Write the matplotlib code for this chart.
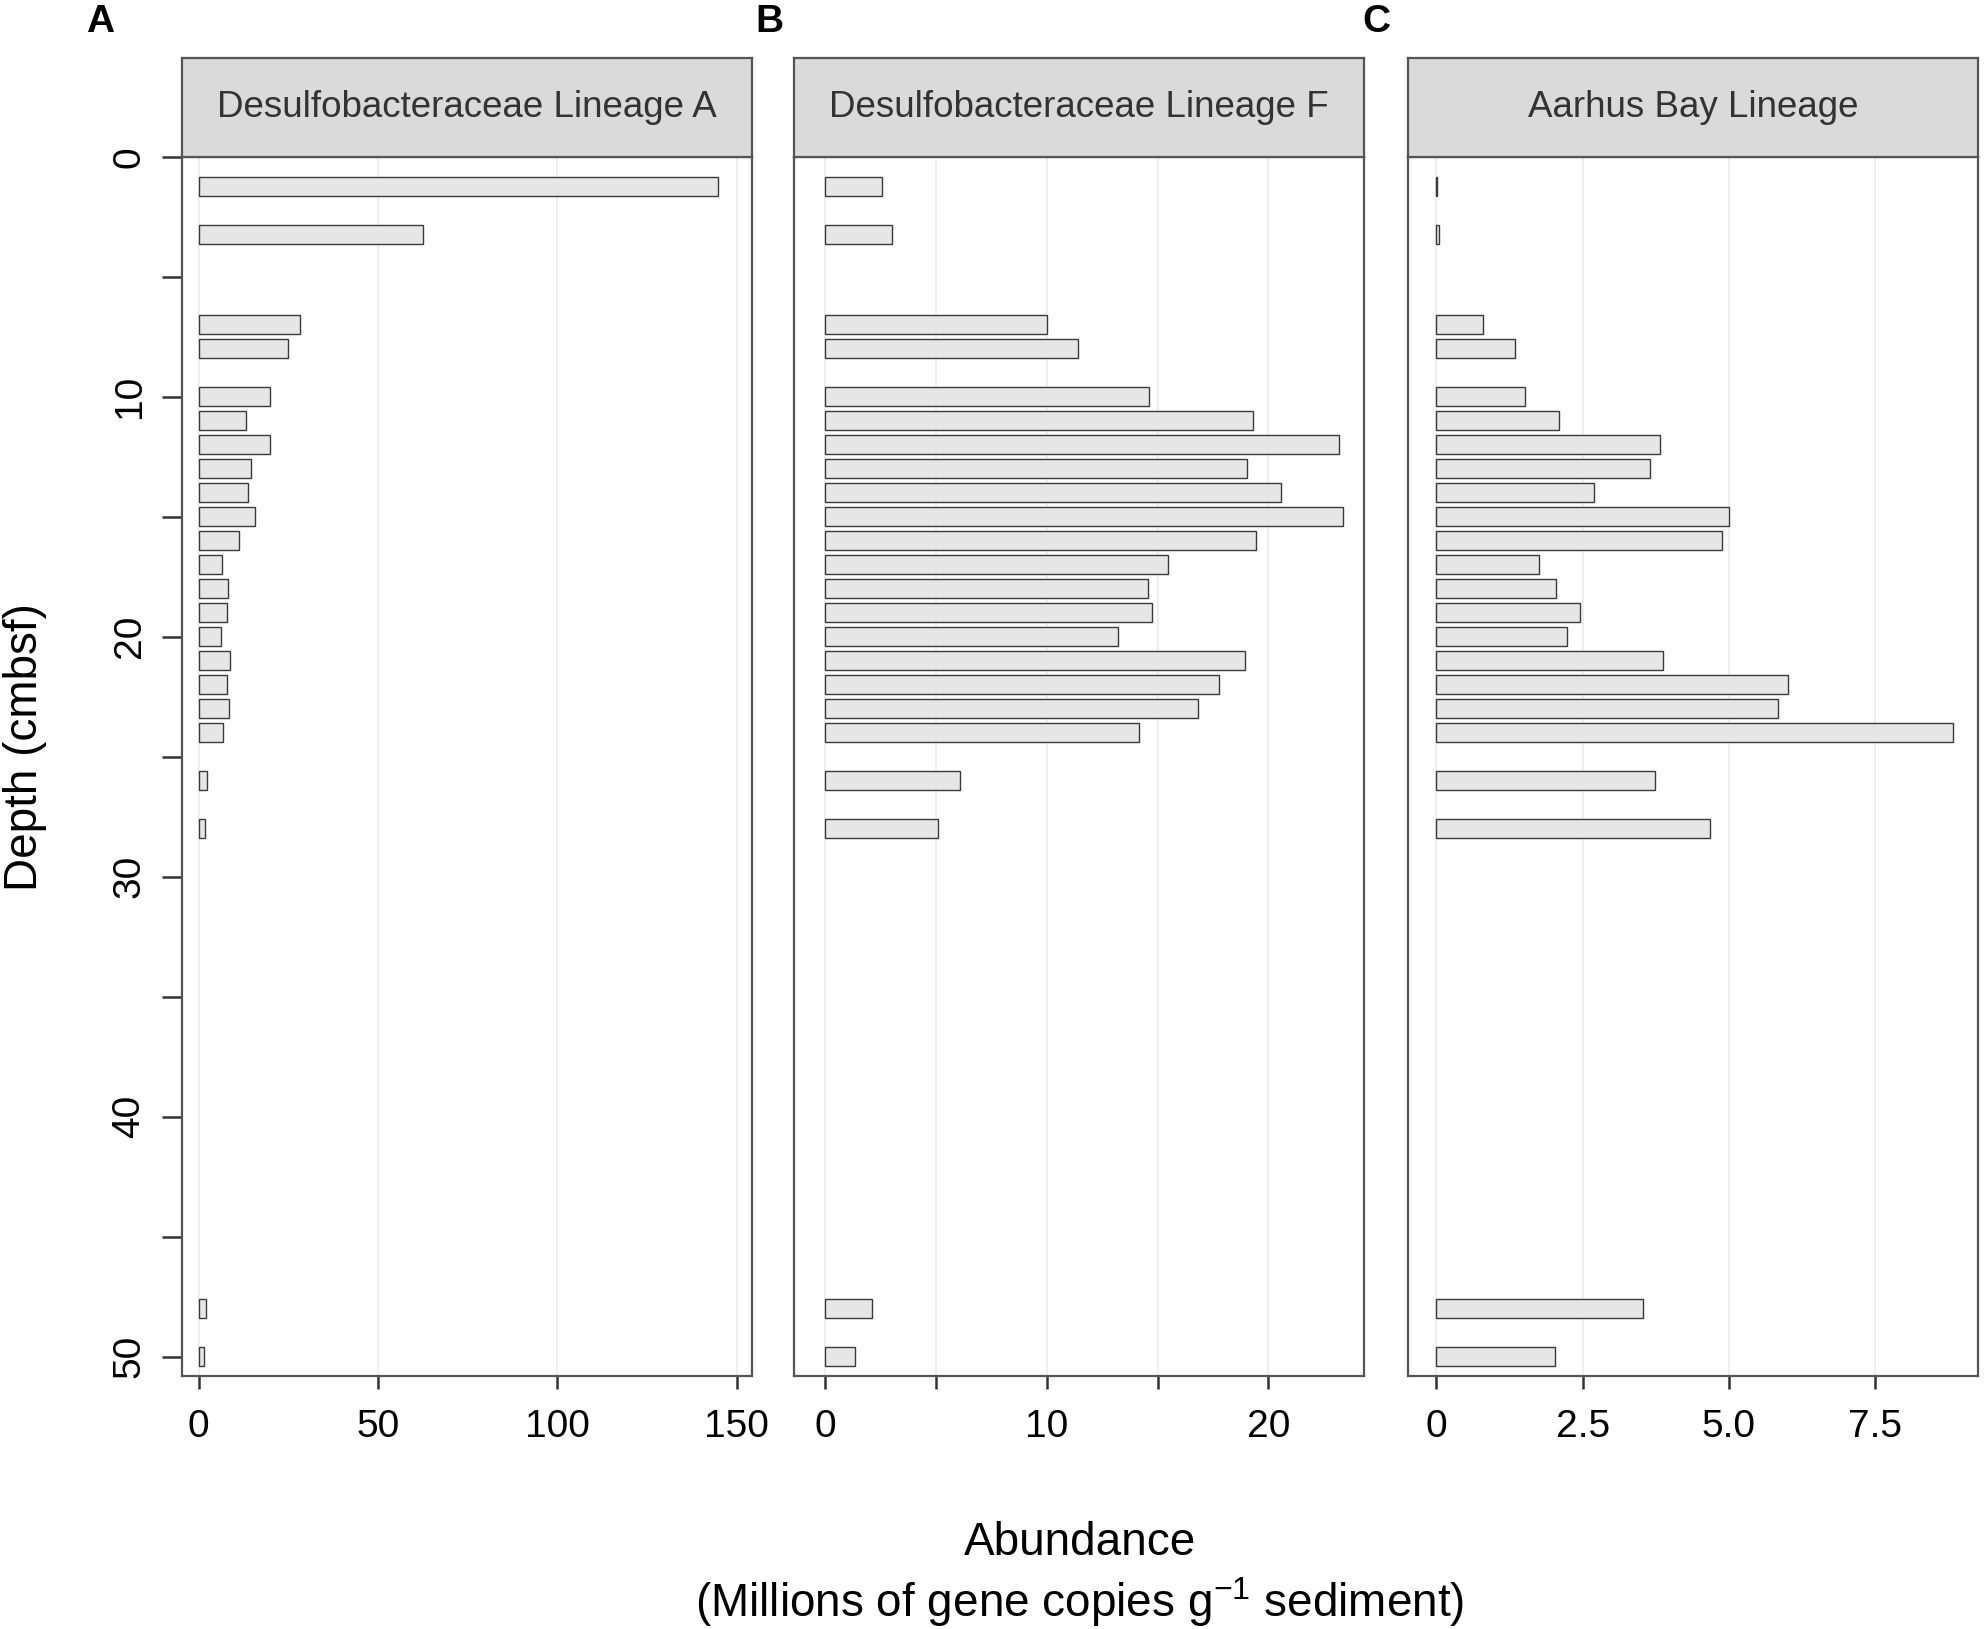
import matplotlib
matplotlib.use("Agg")
import matplotlib.pyplot as plt

plt.rcParams['font.family'] = ['Liberation Sans', 'DejaVu Sans']
plt.rcParams['mathtext.fontset'] = 'custom'
plt.rcParams['mathtext.rm'] = 'Liberation Sans'
plt.rcParams['mathtext.it'] = 'Liberation Sans:italic'

# ---- data ----
depth = [1.25, 3.25, 7, 8, 10, 11, 12, 13, 14, 15, 16, 17, 18, 19, 20, 21, 22, 23, 24, 26, 28, 48, 50]
lineage_a = [144.8, 62.6, 28.3, 25.0, 20.0, 13.2, 20.0, 14.7, 13.7, 15.7, 11.1, 6.4, 8.3, 7.8,
             6.1, 8.6, 7.8, 8.4, 6.8, 2.2, 1.7, 1.9, 1.4]
lineage_f = [2.57, 3.03, 10.0, 11.42, 14.61, 19.32, 23.19, 19.05, 20.57, 23.36, 19.44, 15.49,
             14.56, 14.77, 13.22, 18.94, 17.77, 16.82, 14.16, 6.06, 5.09, 2.13, 1.33]
aarhus_bay = [0.02, 0.05, 0.80, 1.35, 1.52, 2.09, 3.82, 3.65, 2.70, 5.00, 4.89, 1.76, 2.04,
              2.46, 2.23, 3.87, 6.01, 5.84, 8.83, 3.73, 4.68, 3.54, 2.03]

panel_titles = ["Desulfobacteraceae Lineage A", "Desulfobacteraceae Lineage F", "Aarhus Bay Lineage"]
panel_letters = ["A", "B", "C"]
x_ticks = [[0, 50, 100, 150], [0, 5, 10, 15, 20], [0, 2.5, 5.0, 7.5]]
x_ticklabels = [["0", "50", "100", "150"], ["0", "", "10", "", "20"], ["0", "2.5", "5.0", "7.5"]]
x_limits = [(-4.8, 154.1), (-1.42, 24.31), (-0.48, 9.26)]
y_ticks = [0, 5, 10, 15, 20, 25, 30, 35, 40, 45, 50]
y_ticklabels = ["0", "", "10", "", "20", "", "30", "", "40", "", "50"]
series = [lineage_a, lineage_f, aarhus_bay]

W, H = 1986, 1629
fig = plt.figure(figsize=(W / 100, H / 100), dpi=100)

panel_left_px = [181.5, 793.8, 1408.2]
panel_w_px = 570
top_px, bot_px, strip_top_px = 156.7, 1376, 58.3
letter_x_px = [100, 769, 1376]

frame_col = '#555555'
for i in range(3):
    l = panel_left_px[i] / W
    w = panel_w_px / W
    b = 1 - bot_px / H
    h = (bot_px - top_px) / H
    ax = fig.add_axes([l, b, w, h])
    ax.barh(depth, series[i], height=0.8, color='#e6e6e6', edgecolor='#3a3a3a',
            linewidth=1.0, zorder=3)
    ax.set_xlim(*x_limits[i])
    ax.set_ylim(50.8, 0)
    ax.set_xticks(x_ticks[i])
    ax.set_xticklabels(x_ticklabels[i])
    ax.grid(axis='x', color='#ebebeb', linewidth=1.2, zorder=0)
    ax.grid(axis='y', visible=False)
    for s in ax.spines.values():
        s.set_color(frame_col)
        s.set_linewidth(1.6)
    ax.tick_params(axis='x', direction='out', length=9, width=1.8, color='#333333',
                   labelsize=28, pad=15)
    if i == 0:
        ax.set_yticks(y_ticks)
        ax.set_yticklabels(y_ticklabels)
        ax.tick_params(axis='y', direction='out', length=14.4, width=1.8, color='#333333',
                       labelsize=28, pad=10, labelrotation=90)
        for t in ax.get_yticklabels():
            t.set_va('center')
    else:
        ax.set_yticks([])

    # strip
    sax = fig.add_axes([l, 1 - top_px / H, w, (top_px - strip_top_px) / H])
    sax.set_facecolor('#dadada')
    sax.set_xticks([])
    sax.set_yticks([])
    for s in sax.spines.values():
        s.set_color(frame_col)
        s.set_linewidth(1.6)
    sax.text(0.5, 0.5, panel_titles[i], ha='center', va='center', fontsize=26.5,
             color='#333333', transform=sax.transAxes)

    fig.text(letter_x_px[i] / W, 1 - 22.5 / H, panel_letters[i], ha='center', va='center',
             fontsize=28, fontweight='bold', color='black')

fig.text(25 / W, 1 - 747 / H, "Depth (cmbsf)", rotation=90, ha='center', va='center',
         fontsize=33)
fig.text(1080 / W, 1 - 1543 / H, "Abundance", ha='center', va='center', fontsize=33)
fig.text(1080 / W, 1 - 1602 / H, r"(Millions of gene copies g$^{\mathrm{-1}}$ sediment)",
         ha='center', va='center', fontsize=33)

fig.savefig("out.png", dpi=100, facecolor='white')
